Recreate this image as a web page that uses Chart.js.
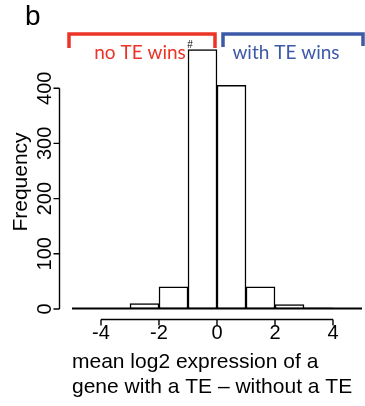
<!DOCTYPE html>
<html lang="en">
<head>
  <meta charset="UTF-8">
  <title>TE expression histogram</title>
  <script src="https://cdn.jsdelivr.net/npm/chart.js"></script>
  <style>
    html, body { margin: 0; padding: 0; background: #fff; }
    canvas { display: block; }
  </style>
</head>
<body>
  <canvas id="histChart" width="365" height="406"></canvas>

  <script>
    // histogram bins (width 1) and their counts
    const binCenters = [-4.5, -3.5, -2.5, -1.5, -0.5, 0.5, 1.5, 2.5, 3.5, 4.5];
    const counts = [1, 1, 10, 40, 470, 405, 40, 8, 2, 1];
    const xTicks = [-4, -2, 0, 2, 4];
    const yTicks = [0, 100, 200, 300, 400];
    const xTitle = ["mean log2 expression of a", "gene with a TE \u2013 without a TE"];
    const yTitle = "Frequency";
    const panelLabel = "b";
    const leftLabel = "no TE wins";
    const rightLabel = "with TE wins";

    const RED = "#ec3327";
    const BLUE = "#3d5aa9";
    const FONT = "'Liberation Sans', Arial, sans-serif";

    // R-style axes, brackets and annotations
    const extras = {
      id: "extras",
      afterDraw(chart) {
        const ctx = chart.ctx;
        const xs = chart.scales.x;
        const ys = chart.scales.y;
        ctx.save();
        ctx.strokeStyle = "#000";

        // bar baseline (near-empty bins read as a heavy line)
        ctx.lineWidth = 2;
        ctx.beginPath();
        ctx.moveTo(xs.getPixelForValue(xs.min), ys.getPixelForValue(0) - 0.5);
        ctx.lineTo(xs.getPixelForValue(xs.max), ys.getPixelForValue(0) - 0.5);
        ctx.stroke();

        ctx.lineWidth = 1.4;

        // y axis
        const ax = 59.5;
        ctx.beginPath();
        ctx.moveTo(ax, ys.getPixelForValue(yTicks[0]));
        ctx.lineTo(ax, ys.getPixelForValue(yTicks[yTicks.length - 1]));
        yTicks.forEach(v => {
          const p = ys.getPixelForValue(v);
          ctx.moveTo(ax, p);
          ctx.lineTo(ax - 6, p);
        });
        ctx.stroke();

        ctx.fillStyle = "#000";
        ctx.font = "20px " + FONT;
        ctx.textAlign = "center";
        ctx.textBaseline = "alphabetic";
        yTicks.forEach(v => {
          const p = ys.getPixelForValue(v);
          ctx.save();
          ctx.translate(51, p);
          ctx.rotate(-Math.PI / 2);
          ctx.fillText(String(v), 0, 0);
          ctx.restore();
        });
        ctx.save();
        ctx.font = "21px " + FONT;
        ctx.translate(27, 182);
        ctx.rotate(-Math.PI / 2);
        ctx.fillText(yTitle, 0, 0);
        ctx.restore();

        // x axis line + ticks
        const ay = 319.5;
        ctx.beginPath();
        ctx.moveTo(xs.getPixelForValue(xTicks[0]), ay);
        ctx.lineTo(xs.getPixelForValue(xTicks[xTicks.length - 1]), ay);
        xTicks.forEach(v => {
          const p = xs.getPixelForValue(v);
          ctx.moveTo(p, ay);
          ctx.lineTo(p, ay + 6);
        });
        ctx.stroke();

        // panel letter
        ctx.textAlign = "left";
        ctx.font = "28px " + FONT;
        ctx.fillText(panelLabel, 25, 25);

        // brackets
        ctx.lineWidth = 3.5;
        ctx.lineJoin = "miter";
        ctx.strokeStyle = RED;
        ctx.beginPath();
        ctx.moveTo(69, 48);
        ctx.lineTo(69, 34);
        ctx.lineTo(215, 34);
        ctx.lineTo(215, 48);
        ctx.stroke();
        ctx.strokeStyle = BLUE;
        ctx.beginPath();
        ctx.moveTo(223, 47);
        ctx.lineTo(223, 34);
        ctx.lineTo(363, 34);
        ctx.lineTo(363, 46);
        ctx.stroke();

        ctx.textAlign = "center";
        ctx.font = "19px Lato, 'Open Sans', sans-serif";
        ctx.fillStyle = RED;
        ctx.fillText(leftLabel, 140, 59);
        ctx.fillStyle = BLUE;
        ctx.fillText(rightLabel, 286, 59);

        ctx.fillStyle = "#000";
        ctx.font = "10px " + FONT;
        ctx.fillText("#", 190, 48);
        ctx.restore();
      }
    };

    document.addEventListener("DOMContentLoaded", () => {
      new Chart(document.getElementById("histChart"), {
        type: "bar",
        data: {
          datasets: [{
            data: binCenters.map((c, i) => ({ x: c, y: counts[i] })),
            backgroundColor: "#fff",
            borderColor: "#000",
            borderWidth: 1.5,
            borderSkipped: false,
            barPercentage: 1,
            categoryPercentage: 1
          }]
        },
        options: {
          responsive: false,
          animation: false,
          layout: { padding: { left: 72, right: 3, top: 33, bottom: 0 } },
          plugins: { legend: { display: false }, tooltip: { enabled: false } },
          scales: {
            x: {
              type: "linear",
              min: -5,
              max: 5,
              offset: false,
              afterBuildTicks: s => { s.ticks = xTicks.map(v => ({ value: v })); },
              grid: { display: false, drawTicks: false },
              border: { display: false },
              ticks: { color: "#000", padding: 12, font: { family: FONT, size: 20, lineHeight: 1.2 } },
              title: {
                display: true,
                text: xTitle,
                align: "start",
                color: "#000",
                font: { family: FONT, size: 21, lineHeight: "25px" },
                padding: { top: -7.5, bottom: 6.5 }
              }
            },
            y: {
              display: false,
              min: 0,
              max: 500
            }
          }
        },
        plugins: [extras]
      });
    });
  </script>
</body>
</html>
